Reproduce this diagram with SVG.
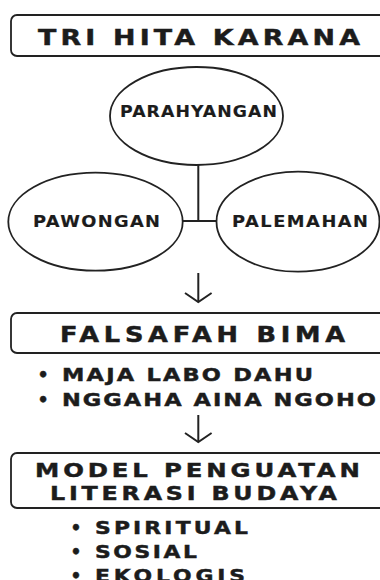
<svg xmlns="http://www.w3.org/2000/svg" width="380" height="580" viewBox="0 0 380 580">
  <style>
    .box { fill: #ffffff; stroke: #222222; stroke-width: 1.8; }
    .ell { fill: #ffffff; stroke: #222222; stroke-width: 1.8; }
    .t { font-family: "DejaVu Sans", "Liberation Sans", sans-serif; font-weight: bold; fill: #1c1c1c; stroke: #1c1c1c; stroke-width: 0.45; }
    .lab { stroke-width: 0.15; }
    .conn { fill: none; stroke: #222222; stroke-width: 2; stroke-linecap: butt; stroke-linejoin: miter; }
  </style>
  <rect x="0" y="0" width="380" height="580" fill="#ffffff"/>

  <g id="connectors">
    <path class="conn" d="M198.3 165 V221 M181.7 221 H216.7"/>
    <path class="conn" d="M198.3 273 V301"/>
    <path class="conn" d="M185 293 L198.3 302 L211.6 293"/>
    <path class="conn" d="M198.3 415 V442"/>
    <path class="conn" d="M185 433 L198.3 442 L211.6 433"/>
  </g>

  <g id="tri-hita-karana">
    <rect class="box" x="11" y="15" width="380" height="41" rx="6"/>
    <text class="t" transform="translate(38,44.5) scale(1.25,1)" font-size="21.5" textLength="257.6">TRI HITA KARANA</text>
  </g>

  <g id="parahyangan">
    <ellipse class="ell" cx="196.5" cy="116" rx="86.5" ry="49"/>
    <text class="t lab" transform="translate(120,117) scale(1.15,1)" font-size="15" textLength="136.5">PARAHYANGAN</text>
  </g>

  <g id="pawongan">
    <ellipse class="ell" cx="95.5" cy="221.7" rx="87.2" ry="49"/>
    <text class="t lab" transform="translate(33,226.5) scale(1.15,1)" font-size="15.5" textLength="110.4">PAWONGAN</text>
  </g>

  <g id="palemahan">
    <ellipse class="ell" cx="298" cy="221.7" rx="81.5" ry="50"/>
    <text class="t lab" transform="translate(232,226.5) scale(1.15,1)" font-size="15.5" textLength="118.3">PALEMAHAN</text>
  </g>

  <g id="falsafah-bima">
    <rect class="box" x="11" y="313" width="380" height="40" rx="6"/>
    <text class="t" transform="translate(60,342) scale(1.25,1)" font-size="20.5" textLength="228">FALSAFAH BIMA</text>
  </g>

  <g id="falsafah-list">
    <text class="t" x="37.5" y="381" font-size="17.5">•</text>
    <text class="t" transform="translate(62,381) scale(1.25,1)" font-size="18" textLength="200.8">MAJA LABO DAHU</text>
    <text class="t" x="37.5" y="406" font-size="17.5">•</text>
    <text class="t" transform="translate(62,406) scale(1.25,1)" font-size="18" textLength="251.2">NGGAHA AINA NGOHO</text>
  </g>

  <g id="model-penguatan">
    <rect class="box" x="11" y="453" width="380" height="55" rx="6"/>
    <text class="t" transform="translate(35,477) scale(1.25,1)" font-size="19.5" textLength="260">MODEL PENGUATAN</text>
    <text class="t" transform="translate(50,500) scale(1.25,1)" font-size="19" textLength="229.6">LITERASI BUDAYA</text>
  </g>

  <g id="model-list">
    <text class="t" x="70.5" y="534" font-size="17">•</text>
    <text class="t" transform="translate(95,534) scale(1.25,1)" font-size="17.5" textLength="122.4">SPIRITUAL</text>
    <text class="t" x="70.5" y="558" font-size="17">•</text>
    <text class="t" transform="translate(95,558) scale(1.25,1)" font-size="17.5" textLength="81.6">SOSIAL</text>
    <text class="t" x="70.5" y="582" font-size="17">•</text>
    <text class="t" transform="translate(95,582) scale(1.25,1)" font-size="17.5" textLength="120">EKOLOGIS</text>
  </g>
</svg>
